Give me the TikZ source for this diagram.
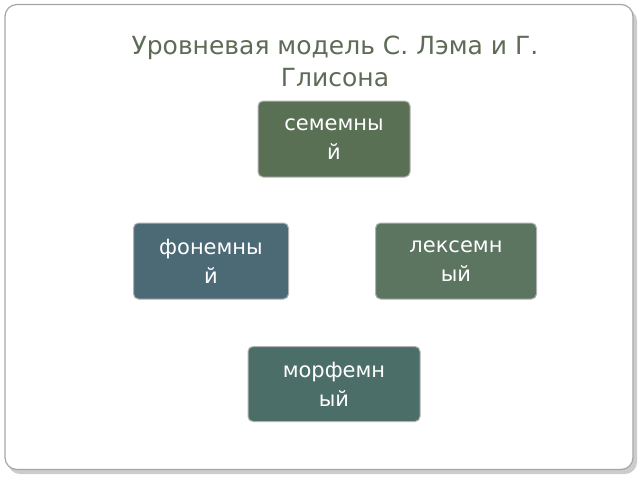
\documentclass[tikz,border=0pt]{standalone}
\usepackage{fontspec}
\setmainfont{DejaVu Sans}
\usetikzlibrary{positioning}
\definecolor{SlideTitle}{HTML}{5E6B57}
\definecolor{SemGreen}{HTML}{5A7055}
\definecolor{FonBlue}{HTML}{4B6A76}
\definecolor{LexGreen}{HTML}{5B7560}
\definecolor{MorTeal}{HTML}{4B6F68}

\begin{document}
\begin{tikzpicture}[x=1pt, y=-1pt]
    \tikzstyle{level} = [rectangle, rounded corners=5pt, draw=gray!60, line width=1pt, text=white, align=center, font=\fontsize{21}{29}\selectfont, inner sep=2pt]
    \tikzstyle{frame} = [draw=gray!70, line width=1.2pt, rounded corners=12pt]

    \useasboundingbox (0,0) rectangle (640,480);
    \fill[gray!40, rounded corners=12pt] (8,9) rectangle (637,474);
    \node (slide) [frame, fill=white, minimum width=628pt, minimum height=465pt, inner sep=0pt] at (319,237) {};

    \node (title) [text=SlideTitle, align=center, font=\fontsize{25}{32}\selectfont] at (335,61) {Уровневая модель С. Лэма и Г.\\Глисона};

    \node (sem) [level, fill=SemGreen, minimum width=152pt, minimum height=76pt] at (334,139) {семемны\\й};
    \node (fon) [level, fill=FonBlue, minimum width=155pt, minimum height=76pt] at (211,261) {фонемны\\й};
    \node (lex) [level, fill=LexGreen, minimum width=161pt, minimum height=76pt] at (456,261) {лексемн\\ый};
    \node (mor) [level, fill=MorTeal, minimum width=172pt, minimum height=75pt] at (334,384) {морфемн\\ый};

\end{tikzpicture}
\end{document}
